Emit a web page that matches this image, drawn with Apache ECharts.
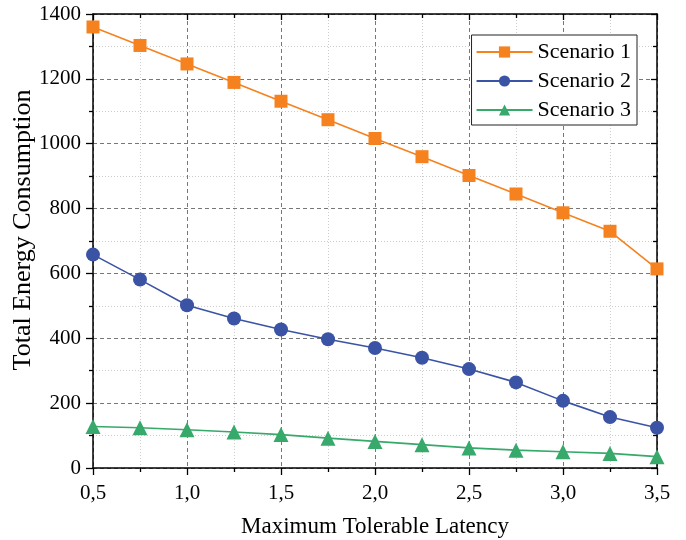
<!DOCTYPE html>
<html>
<head>
<meta charset="utf-8">
<script src="https://cdn.jsdelivr.net/npm/echarts@6/dist/echarts.min.js"></script>
<style>html,body{margin:0;padding:0;background:#fff;}#c{width:686px;height:540px;}</style>
</head>
<body>
<div id="c"></div>
<script>
const xValues = [0.5, 0.75, 1.0, 1.25, 1.5, 1.75, 2.0, 2.25, 2.5, 2.75, 3.0, 3.25, 3.5];
const scenario1 = [1360, 1303, 1246, 1189, 1131, 1074, 1016, 960, 902, 845, 787, 730, 614];
const scenario2 = [658, 581, 502, 461, 427, 397, 370, 340, 305, 264, 207, 157, 124];
const scenario3 = [128, 124, 118, 111, 103, 92, 82, 72, 62, 55, 50, 45, 35];
const seriesNames = ['Scenario 1', 'Scenario 2', 'Scenario 3'];
const xTitle = 'Maximum Tolerable Latency';
const yTitle = 'Total Energy Consumption';

const FONT = '"Liberation Serif", "Times New Roman", serif';
const colors = ['#f5821f', '#3a53a4', '#36a96b'];
const symbols = ['rect', 'circle', 'triangle'];
const sizes = [13, 14, 15];
const all = [scenario1, scenario2, scenario3];

const chart = echarts.init(document.getElementById('c'), null, {renderer: 'canvas'});
const grid = {left: 93, right: 29, top: 14, bottom: 72, containLabel: false, outerBoundsMode: 'none'};
const axisLine = {show: true, onZero: false, lineStyle: {color: '#000', width: 1.5}};
chart.setOption({
  animation: false,
  backgroundColor: '#fff',
  grid: grid,
  legend: {
    right: 49, top: 35,
    orient: 'vertical',
    backgroundColor: '#fff',
    borderColor: '#222', borderWidth: 1,
    padding: [6, 6, 4, 4],
    itemWidth: 56, itemHeight: 14, itemGap: 7,
    textStyle: {fontFamily: FONT, fontSize: 22, color: '#000'},
    data: seriesNames
  },
  xAxis: [{
    type: 'value', min: 0.5, max: 3.5, interval: 0.5,
    name: xTitle, nameLocation: 'middle', nameGap: 47, nameMoveOverlap: false,
    nameTextStyle: {fontFamily: FONT, fontSize: 23, color: '#000'},
    axisLine: axisLine,
    axisTick: {show: true, length: 7, lineStyle: {color: '#000', width: 1.3}},
    minorTick: {show: true, splitNumber: 2, length: 4, lineStyle: {color: '#000', width: 1.3}},
    axisLabel: {fontFamily: FONT, fontSize: 21, color: '#000', margin: 15,
      formatter: v => v.toFixed(1).replace('.', ',')},
    splitLine: {show: true, lineStyle: {color: '#777', type: [4, 3], width: 1}},
    minorSplitLine: {show: true, lineStyle: {color: '#ccc', type: [1, 2], width: 1}}
  }, {
    type: 'value', min: 0.5, max: 3.5, interval: 0.5, position: 'top',
    axisLine: axisLine,
    axisTick: {show: true, inside: true, length: 6, lineStyle: {color: '#000', width: 1.3}},
    minorTick: {show: true, splitNumber: 2, length: 4, lineStyle: {color: '#000', width: 1.3}},
    axisLabel: {show: false}, splitLine: {show: false}
  }],
  yAxis: [{
    type: 'value', min: 0, max: 1400, interval: 200,
    name: yTitle, nameLocation: 'middle', nameGap: 57, nameMoveOverlap: false,
    nameTextStyle: {fontFamily: FONT, fontSize: 26, color: '#000', padding: [0, 0, 0, 22]},
    axisLine: axisLine,
    axisTick: {show: true, length: 7, lineStyle: {color: '#000', width: 1.3}},
    minorTick: {show: true, splitNumber: 2, length: 4, lineStyle: {color: '#000', width: 1.3}},
    axisLabel: {fontFamily: FONT, fontSize: 21, color: '#000', margin: 12,
      formatter: v => String(v)},
    splitLine: {show: true, lineStyle: {color: '#777', type: [4, 3], width: 1}},
    minorSplitLine: {show: true, lineStyle: {color: '#ccc', type: [1, 2], width: 1}}
  }, {
    type: 'value', min: 0, max: 1400, interval: 200, position: 'right',
    axisLine: axisLine,
    axisTick: {show: true, inside: true, length: 6, lineStyle: {color: '#000', width: 1.3}},
    minorTick: {show: true, splitNumber: 2, length: 4, lineStyle: {color: '#000', width: 1.3}},
    axisLabel: {show: false}, splitLine: {show: false}
  }],
  series: seriesNames.map((name, i) => ({
    name: name,
    type: 'line',
    xAxisIndex: 0, yAxisIndex: 0,
    data: xValues.map((x, j) => [x, all[i][j]]),
    symbol: symbols[i],
    symbolSize: sizes[i],
    showAllSymbol: true,
    clip: false,
    lineStyle: {color: colors[i], width: 1.6},
    itemStyle: {color: colors[i]}
  }))
});
</script>
</body>
</html>
